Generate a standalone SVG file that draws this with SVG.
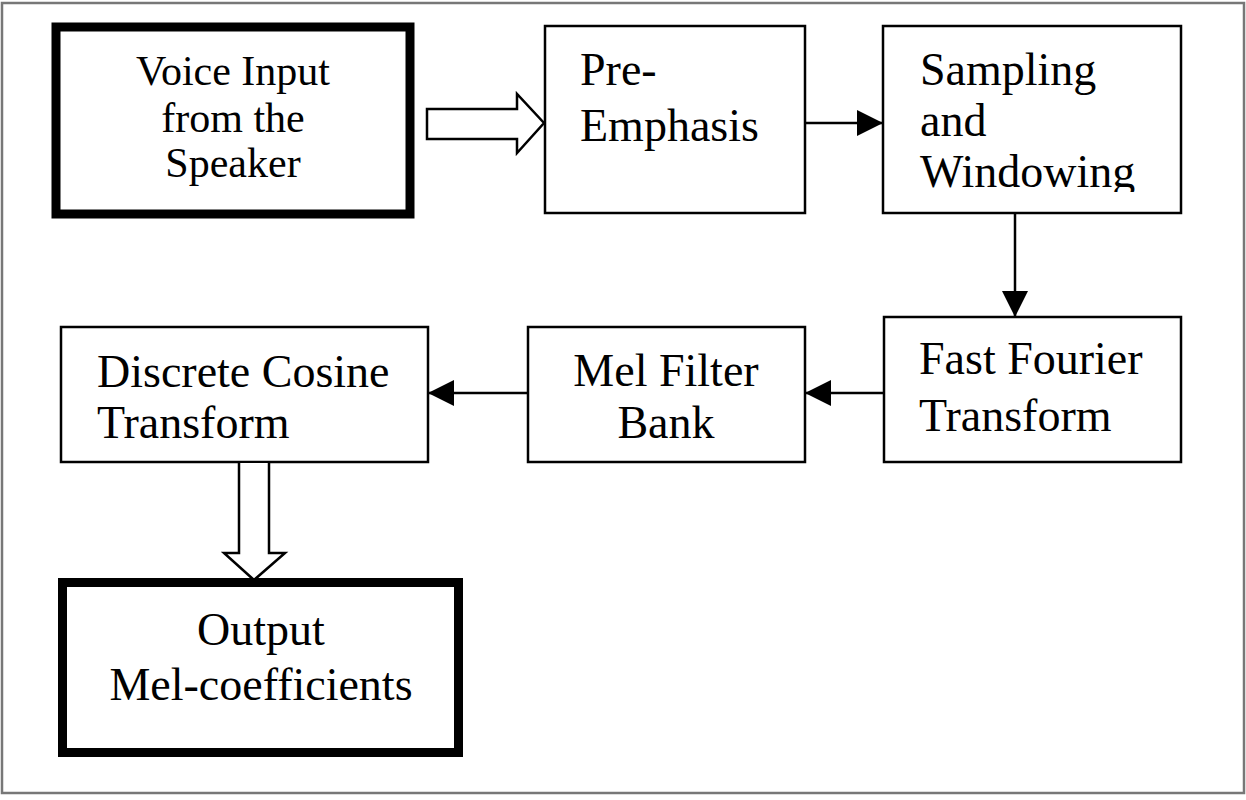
<svg xmlns="http://www.w3.org/2000/svg" width="1246" height="800" viewBox="0 0 1246 800">
<style>
.thin{fill:#fff;stroke:#000;stroke-width:2.5}
.thick{fill:#fff;stroke:#000;stroke-width:9}
.t{font-family:"Liberation Serif","Times New Roman",serif;font-size:46px;fill:#000}
.ts{font-family:"Liberation Serif","Times New Roman",serif;font-size:42px;fill:#000}
.c{text-anchor:middle}
.ln{stroke:#000;stroke-width:2.5;fill:none}
.hollow{fill:#fff;stroke:#000;stroke-width:2.5;stroke-linejoin:miter}
</style>
<defs>
<marker id="ah" markerUnits="userSpaceOnUse" markerWidth="26" markerHeight="26" viewBox="0 0 26 26" refX="26" refY="13" orient="auto">
<path d="M0,0 L26,13 L0,26 Z" fill="#000"/>
</marker>
<clipPath id="clipS"><rect x="884" y="27" width="296" height="165"/></clipPath>
</defs>
<rect x="0" y="0" width="1246" height="800" fill="#fff"/>
<rect x="2" y="3" width="1242" height="790" fill="none" stroke="#777" stroke-width="2.5"/>

<g id="voice">
<rect class="thick" x="56" y="27" width="354" height="187"/>
<text class="ts c" x="233" y="85">Voice Input</text>
<text class="ts c" x="233" y="131.5">from the</text>
<text class="ts c" x="233" y="177">Speaker</text>
</g>
<g id="preemphasis">
<rect class="thin" x="545" y="26" width="260" height="187"/>
<text class="t" x="580" y="85">Pre-</text>
<text class="t" x="580" y="141">Emphasis</text>
</g>
<g id="sampling">
<rect class="thin" x="883" y="26" width="298" height="187"/>
<g clip-path="url(#clipS)">
<text class="t" x="920" y="85">Sampling</text>
<text class="t" x="920" y="136">and</text>
<text class="t" x="920" y="187">Windowing</text>
</g>
</g>
<g id="fft">
<rect class="thin" x="884" y="317" width="297" height="145"/>
<text class="t" x="919" y="374">Fast Fourier</text>
<text class="t" x="919" y="431">Transform</text>
</g>
<g id="melfilter">
<rect class="thin" x="528" y="327" width="277" height="135"/>
<text class="t c" x="666" y="386">Mel Filter</text>
<text class="t c" x="666" y="438">Bank</text>
</g>
<g id="dct">
<rect class="thin" x="61" y="327" width="367" height="135"/>
<text class="t" x="97" y="387">Discrete Cosine</text>
<text class="t" x="97" y="438">Transform</text>
</g>
<g id="output">
<rect class="thick" x="62.5" y="582.5" width="396" height="170"/>
<text class="t c" x="261" y="645">Output</text>
<text class="t c" x="261" y="700">Mel-coefficients</text>
</g>

<g id="connectors">
<path class="hollow" d="M427,109 L517,109 L517,94 L544,123 L517,153 L517,139 L427,139 Z"/>
<line class="ln" x1="805" y1="123" x2="883" y2="123" marker-end="url(#ah)"/>
<line class="ln" x1="1015" y1="213" x2="1015" y2="317" marker-end="url(#ah)"/>
<line class="ln" x1="884" y1="393" x2="805" y2="393" marker-end="url(#ah)"/>
<line class="ln" x1="528" y1="393" x2="428" y2="393" marker-end="url(#ah)"/>
<path class="hollow" d="M239,463 L239,553 L224,553 L254,580 L285,553 L269,553 L269,463"/>
</g>
</svg>
